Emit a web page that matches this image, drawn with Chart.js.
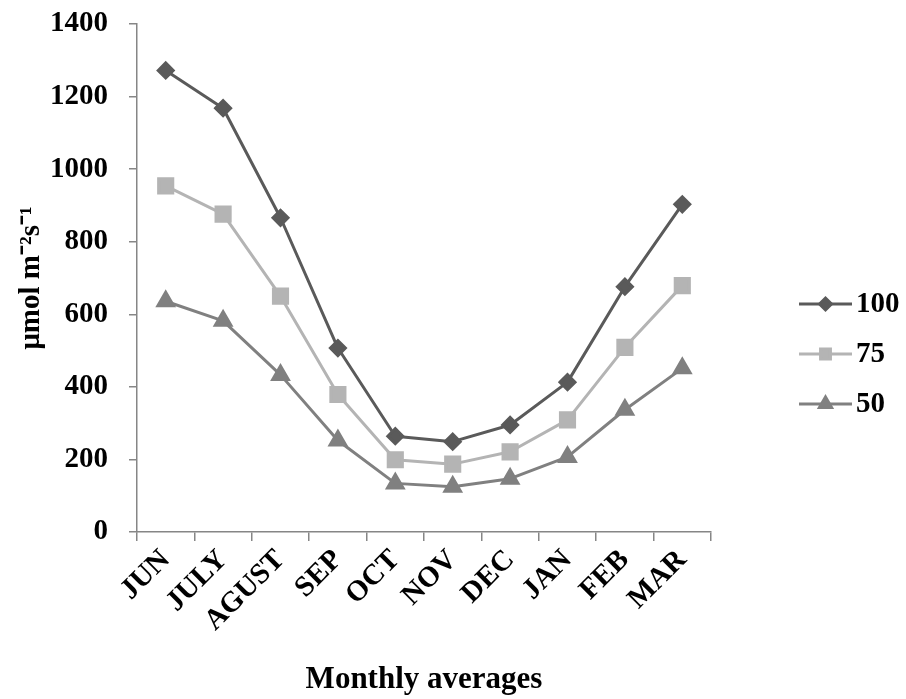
<!DOCTYPE html>
<html>
<head>
<meta charset="utf-8">
<script src="https://cdn.jsdelivr.net/npm/chart.js@4.4.0/dist/chart.umd.min.js"></script>
<style>
  html, body { margin: 0; padding: 0; background: #ffffff; }
  #wrap { width: 906px; height: 699px; position: relative; }
</style>
</head>
<body>
<div id="wrap"><canvas id="c"></canvas></div>
<script>
const categories = ['JUN', 'JULY', 'AGUST', 'SEP', 'OCT', 'NOV', 'DEC', 'JAN', 'FEB', 'MAR'];
const series100 = [1272, 1168, 866, 507, 264, 249, 295, 413, 676, 903];
const series75  = [954, 876, 650, 379, 199, 187, 221, 309, 509, 679];
const series50  = [636, 582, 433, 252, 134, 125, 147, 207, 337, 451];
const seriesNames = ['100', '75', '50'];
const yTicks = [0, 200, 400, 600, 800, 1000, 1200, 1400];

const FONT = "'Liberation Serif', 'Times New Roman', serif";
const AXIS = '#868686';

const legendPlugin = {
  id: 'sideLegend',
  afterDraw(chart) {
    const ctx = chart.ctx;
    const ys = [304, 354, 404];
    const radii = [6, 7, 7];
    chart.data.datasets.forEach((ds, i) => {
      const y = ys[i];
      ctx.save();
      ctx.strokeStyle = ds.borderColor;
      ctx.lineWidth = ds.borderWidth;
      ctx.beginPath();
      ctx.moveTo(799, y);
      ctx.lineTo(852, y);
      ctx.stroke();
      ctx.fillStyle = ds.pointBackgroundColor;
      ctx.strokeStyle = ds.pointBorderColor;
      Chart.helpers.drawPoint(ctx, {pointStyle: ds.pointStyle, radius: radii[i], rotation: 0, borderWidth: 1}, 825.5, y);
      ctx.fillStyle = '#000';
      ctx.font = "bold 29px " + FONT;
      ctx.textAlign = 'left';
      ctx.textBaseline = 'middle';
      ctx.fillText(ds.label, 856, y + 1);
      ctx.restore();
    });
  }
};

new Chart(document.getElementById('c'), {
  type: 'line',
  data: {
    labels: categories,
    datasets: [
      { label: seriesNames[0], data: series100, borderColor: '#5a5a5a', backgroundColor: '#5a5a5a',
        pointBackgroundColor: '#5a5a5a', pointBorderColor: '#5a5a5a', pointStyle: 'rectRot', pointRadius: 7.5,
        borderWidth: 3, tension: 0 },
      { label: seriesNames[1], data: series75, borderColor: '#b4b4b4', backgroundColor: '#b4b4b4',
        pointBackgroundColor: '#b4b4b4', pointBorderColor: '#b4b4b4', pointStyle: 'rect', pointRadius: 10,
        borderWidth: 3, tension: 0 },
      { label: seriesNames[2], data: series50, borderColor: '#808080', backgroundColor: '#808080',
        pointBackgroundColor: '#808080', pointBorderColor: '#808080', pointStyle: 'triangle', pointRadius: 9,
        borderWidth: 3, tension: 0 }
    ]
  },
  options: {
    responsive: true,
    maintainAspectRatio: false,
    animation: false,
    devicePixelRatio: 1,
    layout: { padding: { top: 24, right: 195, bottom: 0, left: 0 } },
    plugins: { legend: { display: false }, tooltip: { enabled: false } },
    elements: { point: { borderWidth: 1, hoverRadius: 0 }, line: { borderCapStyle: 'round', borderJoinStyle: 'round' } },
    scales: {
      x: {
        type: 'category',
        offset: true,
        afterFit(scale) { scale.height = 167; scale.paddingLeft = 0; scale.paddingRight = 0; },
        grid: { display: true, offset: true, drawOnChartArea: false, drawTicks: true, tickLength: 9, color: AXIS, lineWidth: 1.5 },
        border: { display: true, color: AXIS, width: 1.5 },
        ticks: { color: '#000', font: { family: FONT, size: 29, weight: 'bold' }, minRotation: 45, maxRotation: 45, padding: 2, autoSkip: false },
        title: { display: true, text: 'Monthly averages', color: '#000', font: { family: FONT, size: 31, weight: 'bold' }, padding: { top: 0, bottom: 0 } }
      },
      y: {
        min: 0,
        max: 1400,
        afterFit(scale) { scale.width = 137; scale.paddingTop = 0; scale.paddingBottom = 0; },
        afterBuildTicks(scale) { scale.ticks = yTicks.map(v => ({ value: v })); },
        grid: { display: true, drawOnChartArea: false, drawTicks: true, tickLength: 8, color: AXIS, lineWidth: 1.5 },
        border: { display: true, color: AXIS, width: 1.5 },
        ticks: { color: '#000', font: { family: FONT, size: 29, weight: 'bold' }, padding: 21, callback: (v) => String(v) },
        title: { display: true, text: 'μmol m⁻²s⁻¹', color: '#000', font: { family: FONT, size: 29, weight: 'bold' }, padding: { top: 14, bottom: 0 } }
      }
    }
  },
  plugins: [legendPlugin]
});
</script>
</body>
</html>
